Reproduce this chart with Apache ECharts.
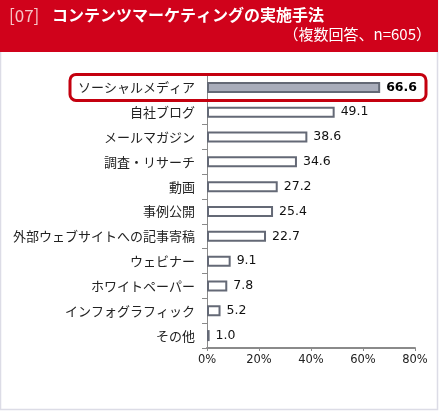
<!DOCTYPE html>
<html><head><meta charset="utf-8">
<script src="https://cdn.jsdelivr.net/npm/echarts@6/dist/echarts.min.js"></script>
<style>html,body{margin:0;padding:0;background:#fff}#c{width:439px;height:411px}</style>
</head><body><div id="c"></div>
<script>
const categories = ['ソーシャルメディア','自社ブログ','メールマガジン','調査・リサーチ','動画','事例公開','外部ウェブサイトへの記事寄稿','ウェビナー','ホワイトペーパー','インフォグラフィック','その他'];
const values = [66.6,49.1,38.6,34.6,27.2,25.4,22.7,9.1,7.8,5.2,1.0];
const xTicks = [0,20,40,60,80];
const highlightIndex = 0;

const chart = echarts.init(document.getElementById('c'));
const data = values.map((v,i)=>({
  value:v,
  itemStyle: i===highlightIndex ? {color:'#a9adbb'} : {color:'#ffffff'},
  label: i===highlightIndex ? {fontWeight:'bold', fontSize:12.5, color:'#000'} : {}
}));
const baseGraphic = [
  {type:'rect', shape:{x:0.5,y:0,width:437,height:409.5}, style:{fill:'#fff', stroke:'#dcdce6', lineWidth:1.5}, z:-10},
  {type:'rect', shape:{x:0,y:0,width:438,height:52}, style:{fill:'#d0021b'}, z:-5},
  {type:'text', left:9, top:7, style:{text:'[07]', fill:'#f6c6c8', fontSize:17, fontFamily:'Noto Sans CJK JP'}},
  {type:'text', left:52, top:7, style:{text:'コンテンツマーケティングの実施手法', fill:'#fff', fontSize:16, fontWeight:'bold', fontFamily:'Noto Sans CJK JP'}},
  {type:'text', right:8, top:27, style:{text:'（複数回答、n=605）', fill:'#fff', fontSize:15, fontFamily:'Noto Sans CJK JP'}}
];
chart.setOption({
  animation:false,
  graphic:baseGraphic,
  grid:{left:207, right:24, top:75, bottom:63},
  xAxis:{
    type:'value', min:0, max:80, interval:20,
    axisLine:{show:true, lineStyle:{color:'#8a8a8a', width:2}},
    axisTick:{show:true, length:3, lineStyle:{color:'#8a8a8a'}},
    splitLine:{show:false},
    axisLabel:{formatter: v => xTicks.includes(v) ? v+'%' : '', color:'#222', fontFamily:'DejaVu Sans', fontSize:11.5, margin:6}
  },
  yAxis:{
    type:'category', data:categories, inverse:true,
    axisLine:{show:true, lineStyle:{color:'#8a8a8a', width:1}},
    axisTick:{show:true, length:5, lineStyle:{color:'#8a8a8a'}},
    axisLabel:{color:'#222', fontFamily:'Noto Sans CJK JP', fontSize:13, margin:12}
  },
  series:[{
    type:'bar', data:data, barWidth:11,
    itemStyle:{borderColor:'#646976', borderWidth:2},
    label:{show:true, position:'right', distance:6, color:'#111', fontFamily:'DejaVu Sans', fontSize:12.5, formatter: p => p.value.toFixed(1)}
  }]
});
const yc = chart.convertToPixel({yAxisIndex:0}, categories[highlightIndex]);
chart.setOption({graphic: baseGraphic.concat([
  {type:'rect', shape:{x:70, y:yc-13, width:356, height:26, r:6}, style:{fill:'none', stroke:'#c4000f', lineWidth:3}, z:10}
])});
</script></body></html>
